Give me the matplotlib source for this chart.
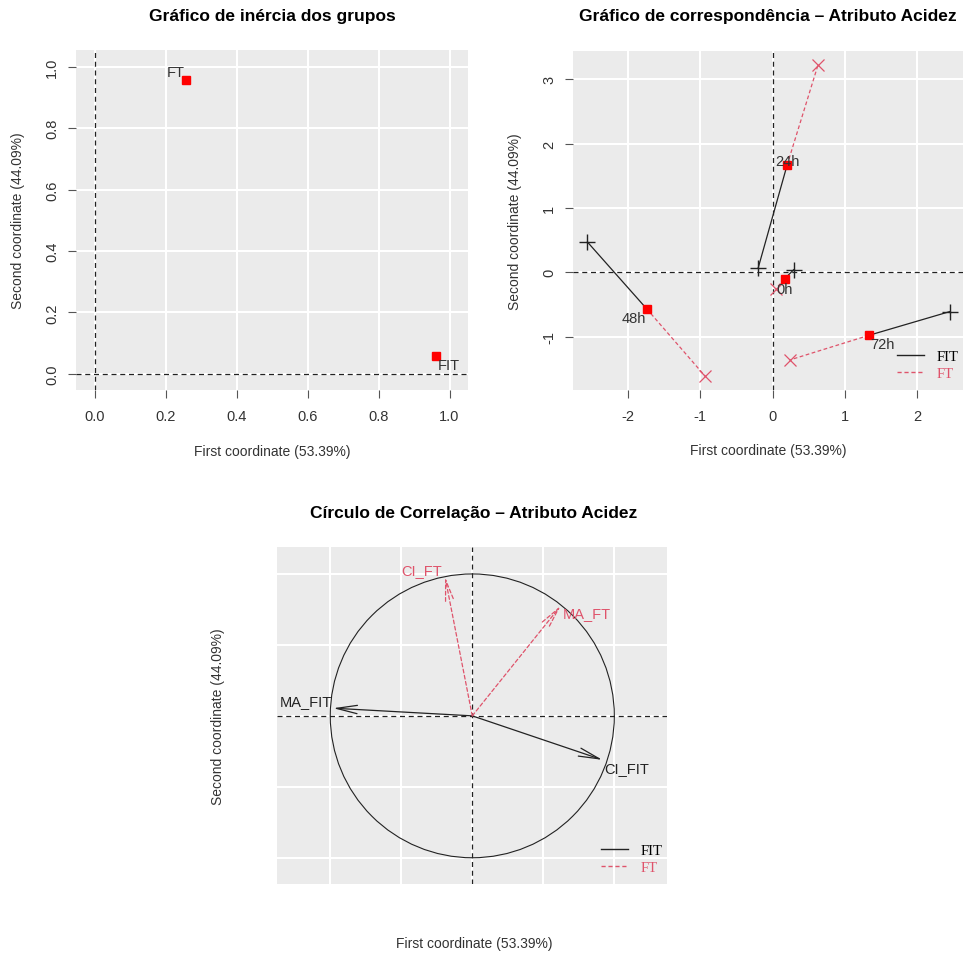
import numpy as np
import matplotlib.pyplot as plt
from matplotlib.lines import Line2D
from matplotlib.patches import Circle

plt.rcParams['font.family'] = ['Liberation Sans', 'DejaVu Sans']
plt.rcParams['axes.unicode_minus'] = False

# grupos (inercia)
groups = ['FIT', 'FT']
group_x = [0.962, 0.257]
group_y = [0.058, 0.958]

# pontos medios e parciais por tempo
times = ['0h', '24h', '48h', '72h']
mean_x = [0.166, 0.20, -1.74, 1.33]
mean_y = [-0.10, 1.67, -0.57, -0.98]
fit_x = [0.29, -0.20, -2.56, 2.45]
fit_y = [0.04, 0.07, 0.47, -0.61]
ft_x = [0.04, 0.628, -0.93, 0.245]
ft_y = [-0.26, 3.23, -1.62, -1.36]

# circulo de correlacao
var_names = ['MA_FIT', 'CI_FIT', 'MA_FT', 'CI_FT']
var_group = ['FIT', 'FIT', 'FT', 'FT']
var_x = [-0.979, 0.916, 0.622, -0.192]
var_y = [0.054, -0.31, 0.775, 0.979]

W, H = 963, 954
PINK = '#DF536B'
BG = '#EBEBEB'
TXT = '#333333'
DASH = (4, 3)

fig = plt.figure(figsize=(W / 100, H / 100), dpi=100)


def box(l, t, r, b):
    return [l / W, 1 - b / H, (r - l) / W, (b - t) / H]


def px(x, y):
    return x / W, 1 - y / H


def style(ax):
    ax.set_facecolor(BG)
    for s in ax.spines.values():
        s.set_visible(False)
    ax.grid(True, color='white', lw=1.5)
    ax.set_axisbelow(True)
    ax.tick_params(length=6, color='#555555', labelcolor=TXT, labelsize=10.5)
    ax.tick_params(axis='x', pad=8)
    ax.tick_params(axis='y', pad=6, labelrotation=90)
    for lab in ax.get_yticklabels():
        lab.set_va('center')
    ax.axhline(0, color='#222222', lw=0.9, dashes=DASH)
    ax.axvline(0, color='#222222', lw=0.9, dashes=DASH)


def labels(title, cx, ty, xl_y, yl_x, yl_y):
    fig.text(*px(cx, ty), title, ha='center', va='center', fontsize=12.5,
             fontweight='bold')
    fig.text(*px(cx, xl_y), 'First coordinate (53.39%)', ha='center',
             va='center', fontsize=10, color=TXT)
    fig.text(*px(yl_x, yl_y), 'Second coordinate (44.09%)', ha='center',
             va='center', rotation=90, fontsize=10, color=TXT)


def legend(ax, x, y):
    hs = [Line2D([], [], color='#222222', lw=1),
          Line2D([], [], color=PINK, lw=1, dashes=(3, 2))]
    leg = ax.legend(hs, ['FIT', 'FT'], loc='upper left', bbox_to_anchor=px(x, y),
                    bbox_transform=fig.transFigure, frameon=False, borderpad=0,
                    borderaxespad=0, handlelength=1.85, handletextpad=0.85,
                    labelspacing=0.25, prop={'family': 'Liberation Serif', 'size': 10.5})
    leg.get_texts()[1].set_color(PINK)


# --- grafico de inercia ---
ax1 = fig.add_axes(box(76, 51, 468, 391))
ax1.set_xlim(-0.053, 1.052)
ax1.set_ylim(-0.053, 1.055)
ax1.set_xticks(np.arange(0, 1.01, 0.2))
ax1.set_yticks(np.arange(0, 1.01, 0.2))
ax1.set_xticklabels(['0.0', '0.2', '0.4', '0.6', '0.8', '1.0'])
ax1.set_yticklabels(['0.0', '0.2', '0.4', '0.6', '0.8', '1.0'])
style(ax1)
ax1.plot(group_x, group_y, 's', color='red', ms=6, zorder=3)
ax1.annotate(groups[1], (group_x[1], group_y[1]), xytext=(-1, 1),
             textcoords='offset pixels', ha='right', va='bottom', fontsize=10.5, color=TXT)
ax1.annotate(groups[0], (group_x[0], group_y[0]), xytext=(2, -2),
             textcoords='offset pixels', ha='left', va='top', fontsize=10.5, color=TXT)
labels('Gráfico de inércia dos grupos', 272, 17, 452, 18, 221)

# --- grafico de correspondencia ---
ax2 = fig.add_axes(box(573, 52, 963, 391))
ax2.set_xlim(-2.76, 2.63)
ax2.set_ylim(-1.83, 3.44)
ax2.set_xticks([-2, -1, 0, 1, 2])
ax2.set_yticks([-1, 0, 1, 2, 3])
style(ax2)
for i in range(len(times)):
    ax2.plot([mean_x[i], fit_x[i]], [mean_y[i], fit_y[i]], color='#222222', lw=0.9)
    ax2.plot([mean_x[i], ft_x[i]], [mean_y[i], ft_y[i]], color=PINK, lw=0.9,
             dashes=(3, 2))
ax2.plot(fit_x, fit_y, '+', color='#222222', ms=11, mew=1)
ax2.plot(ft_x, ft_y, 'x', color=PINK, ms=8, mew=0.9)
ax2.plot(mean_x, mean_y, 's', color='red', ms=6, zorder=3)
offs = {'0h': (0, -10), '24h': (0, 4), '48h': (-13, -9), '72h': (14, -9)}
for i, t in enumerate(times):
    ax2.annotate(t, (mean_x[i], mean_y[i]), xytext=offs[t], textcoords='offset pixels',
                 ha='center', va='center', fontsize=10.5, color=TXT)
legend(ax2, 897, 351)
labels('Gráfico de correspondência – Atributo Acidez', 768, 17, 451, 515, 222)

# --- circulo de correlacao ---
ax3 = fig.add_axes(box(277, 548, 667, 885))
ax3.set_xlim(-1.375, 1.371)
ax3.set_ylim(-1.185, 1.19)
ax3.set_xticks([-1, -0.5, 0, 0.5, 1])
ax3.set_yticks([-1, -0.5, 0, 0.5, 1])
style(ax3)
ax3.tick_params(length=0, labelbottom=False, labelleft=False)
ax3.add_patch(Circle((0, 0), 1, fill=False, color='#222222', lw=0.8))
var_offs = {'MA_FIT': (-1, 7, 'right'), 'CI_FIT': (2, -8, 'left'),
            'MA_FT': (2, -7, 'left'), 'CI_FT': (-3, 7, 'right')}
for name, g, x, y in zip(var_names, var_group, var_x, var_y):
    col = '#222222' if g == 'FIT' else PINK
    ls = '-' if g == 'FIT' else (0, (3, 2))
    ax3.annotate('', (x, y), xytext=(0, 0),
                 arrowprops=dict(arrowstyle='->,head_length=1.5,head_width=0.3',
                                 color=col, lw=0.9, ls=ls, shrinkA=0, shrinkB=0,
                                 mutation_scale=10))
    dx, dy, ha = var_offs[name]
    ax3.annotate(name, (x, y), xytext=(dx, dy), textcoords='offset pixels',
                 ha=ha, va='center', fontsize=10.5, color=col)
legend(ax3, 601, 845)
labels('Círculo de Correlação – Atributo Acidez', 474, 514, 944, 218, 717)

fig.savefig('out.png', dpi=100)
